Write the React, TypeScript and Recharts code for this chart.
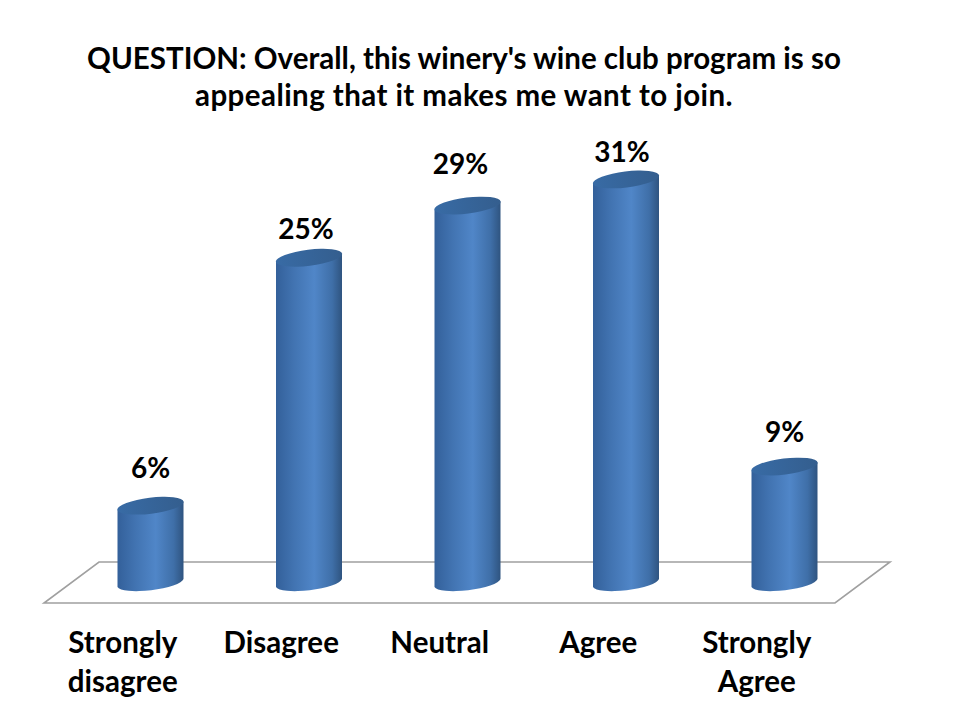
import React from "react";
import { Bar, BarChart, Customized, LabelList, XAxis, YAxis } from "recharts";

const categories = ["Strongly disagree", "Disagree", "Neutral", "Agree", "Strongly Agree"];
const percents = [6, 25, 29, 31, 9];
const labelNudgeX = [0, -3, -7, -4, 0];
const labelNudgeY = [0, 9, -4, 11, 3];
const titleLines = [
  "QUESTION: Overall, this winery's wine club program is so",
  "appealing that it makes me want to join.",
];
const titleSpacing = [0, 0.43];

const data = categories.map((name, i) => ({ name, percent: percents[i] }));
const FONT = "Lato, 'Open Sans', sans-serif";

// plain 2D bar turned into a tilted cylinder
function Cylinder({ x, y, width, height }: any) {
  const rx = width / 2 + 0.4;
  const ry = 8;
  const tilt = 4;
  const base = y + height - 1;
  const side = `M${x},${y + tilt} L${x},${base + tilt} A${rx},${ry} -7 0 0 ${x + width},${base - tilt} L${x + width},${y - tilt} Z`;
  return (
    <g>
      <path d={side} fill="url(#cylSide)" />
      <ellipse
        cx={x + width / 2}
        cy={y}
        rx={rx}
        ry={ry}
        fill="url(#cylTop)"
        transform={`rotate(-7 ${x + width / 2} ${y})`}
      />
    </g>
  );
}

function Floor() {
  return (
    <path
      d="M44,603 L835,603 L890,562 L99,562 Z"
      fill="#ffffff"
      stroke="#a0a0a0"
      strokeWidth={1.6}
    />
  );
}

function CategoryTick({ x, y, payload }: any) {
  const words = String(payload.value).split(" ");
  return (
    <text x={x - 28} y={y + 63} textAnchor="middle" fontFamily={FONT} fontWeight={700} fontSize={29.5} fill="#000">
      {words.map((w, i) => (
        <tspan key={w} x={x - 28} dy={i === 0 ? 0 : 39}>
          {w}
        </tspan>
      ))}
    </text>
  );
}

function ValueLabel({ x, y, width, value, index }: any) {
  return (
    <text
      x={x + width / 2 + labelNudgeX[index]}
      y={y - 28 + labelNudgeY[index]}
      textAnchor="middle"
      fontFamily={FONT}
      fontWeight={700}
      fontSize={28}
      fill="#000"
    >
      {value}%
    </text>
  );
}

export default function App() {
  return (
    <div style={{ position: "absolute", left: 0, top: 0, width: 960, height: 720, background: "#fff" }}>
      <div
        style={{
          position: "absolute",
          left: 0,
          top: 39,
          width: 928,
          textAlign: "center",
          fontFamily: FONT,
          fontWeight: 700,
          fontSize: 29.5,
          lineHeight: "37px",
          color: "#000",
        }}
      >
        {titleLines.map((line, i) => (
          <div key={line} style={{ letterSpacing: titleSpacing[i] }}>
            {line}
          </div>
        ))}
      </div>
      <BarChart
        width={960}
        height={720}
        data={data}
        margin={{ top: 62, right: 96, bottom: 0, left: 71.5 }}
      >
        <defs>
          <linearGradient id="cylSide" x1="0" y1="0" x2="1" y2="0">
            <stop offset="0%" stopColor="#33609a" />
            <stop offset="28%" stopColor="#4274b2" />
            <stop offset="58%" stopColor="#5086c8" />
            <stop offset="85%" stopColor="#3f6fa8" />
            <stop offset="100%" stopColor="#2f5480" />
          </linearGradient>
          <linearGradient id="cylTop" x1="0" y1="0" x2="1" y2="0">
            <stop offset="0%" stopColor="#386ba5" />
            <stop offset="100%" stopColor="#345e8e" />
          </linearGradient>
        </defs>
        <Customized component={Floor} />
        <XAxis
          dataKey="name"
          axisLine={false}
          tickLine={false}
          height={136}
          interval={0}
          tick={<CategoryTick />}
          tickMargin={0}
        />
        <YAxis hide domain={[0, 40]} />
        <Bar dataKey="percent" barSize={66} shape={<Cylinder />} isAnimationActive={false}>
          <LabelList dataKey="percent" content={<ValueLabel />} />
        </Bar>
      </BarChart>
    </div>
  );
}
